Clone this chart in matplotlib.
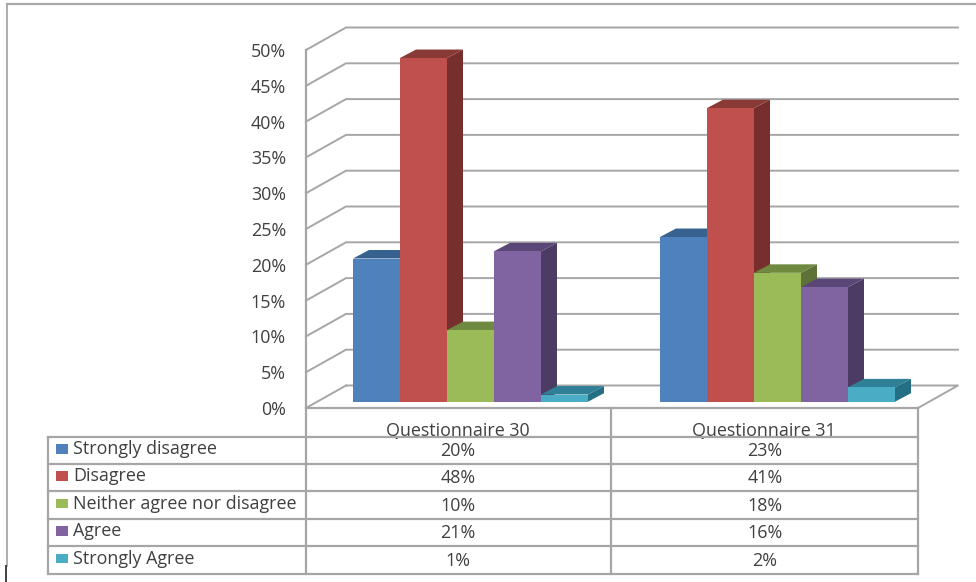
import matplotlib
matplotlib.use('Agg')
import matplotlib.pyplot as plt
from matplotlib.patches import Polygon, Rectangle

categories = ['Questionnaire 30', 'Questionnaire 31']
series_names = ['Strongly disagree', 'Disagree', 'Neither agree nor disagree', 'Agree', 'Strongly Agree']
q30_values = [20, 48, 10, 21, 1]
q31_values = [23, 41, 18, 16, 2]
y_ticks = [0, 5, 10, 15, 20, 25, 30, 35, 40, 45, 50]

front_colors = ['#4f81bd', '#c0504d', '#9bbb59', '#8064a2', '#4bacc6']
top_colors = ['#37618f', '#8a3a36', '#6f8a40', '#5b4678', '#2f8096']
side_colors = ['#2f4e74', '#772f2d', '#5e7137', '#4c3b62', '#256f84']

GRID = '#a6a6a6'
TEXT = '#404040'
FONT = 'Open Sans'
FS = 12.9

plt.rcParams['font.family'] = FONT

PER_PCT = 7.16
FRONT_ZERO = 408
BAR_ZERO = 401.7
DX, DY = 16, 8.5
BAR_W = 47

fig = plt.figure(figsize=(9.76, 5.82), dpi=100)

# axes in pixel positions, used for the frame and the table grid
ax = fig.add_axes([0, 0, 1, 1])
ax.set_xlim(0, 976)
ax.set_ylim(582, 0)
ax.axis('off')

def ypix(v, zero=FRONT_ZERO):
    return zero - v * PER_PCT

# outer frame
ax.plot([7, 976], [4, 4], color='#a8a8a8', lw=1.6)
ax.plot([7, 7], [4, 566], color='#a8a8a8', lw=1.3)
ax.plot([6, 6], [566, 582], color='#404040', lw=1.4)

# gridlines on the wall and side wall
for v in y_ticks:
    yf = ypix(v)
    yb = yf - 22.5
    if v > 0:
        ax.plot([306, 346, 958], [yf, yb, yb], color=GRID, lw=1.4, zorder=1)
    else:
        ax.plot([306, 346], [yf, yb], color=GRID, lw=1.4, zorder=1)
        ax.plot([346, 958, 918], [yb, yb, yf], color=GRID, lw=1.4, zorder=1)
    ax.text(286, yf + 2, f'{v}%', ha='right', va='center', fontsize=FS, color=TEXT)

# 3d bars, front face with top and side panels
group_left = [353, 660]
for left, values in zip(group_left, [q30_values, q31_values]):
    for j, v in enumerate(values):
        x0 = left + j * BAR_W
        x1 = x0 + BAR_W
        yb = BAR_ZERO
        yt = ypix(v, BAR_ZERO)
        ax.add_patch(Polygon([(x1, yb), (x1 + DX, yb - DY), (x1 + DX, yt - DY), (x1, yt)],
                             fc=side_colors[j], ec='none', zorder=2 + j))
        ax.add_patch(Polygon([(x0, yt), (x0 + DX, yt - DY), (x1 + DX, yt - DY), (x1, yt)],
                             fc=top_colors[j], ec='none', zorder=2 + j))
        ax.add_patch(Rectangle((x0, yt), BAR_W, yb - yt, fc=front_colors[j], ec='none', zorder=2 + j))

# data table under the chart
col_x = [48, 305, 611, 918]
row_y = [437, 463.5, 491, 518.5, 546, 573.5]

# the row line runs over the bottom of the category names
for cx, cat in zip(col_x[1:], categories):
    ax.text(cx + 153, 436, cat, ha='center', va='baseline', fontsize=FS, color=TEXT, zorder=5)

ax.plot([306, 918], [408, 408], color=GRID, lw=1.6, zorder=6)
ax.plot([306, 306], [ypix(50), 573.5], color=GRID, lw=1.6, zorder=6)
ax.plot([611, 611], [408, 573.5], color=GRID, lw=1.6, zorder=6)
ax.plot([918, 918], [408, 573.5], color=GRID, lw=1.6, zorder=6)
ax.plot([48, 48], [437, 573.5], color=GRID, lw=1.6, zorder=6)
for y in row_y:
    ax.plot([48, 918], [y, y], color=GRID, lw=1.6, zorder=6)

for i, name in enumerate(series_names):
    ymid = (row_y[i] + row_y[i + 1]) / 2
    ax.add_patch(Rectangle((56, ymid - 6), 12, 9.5, fc=front_colors[i], ec='none', zorder=6))
    ax.text(73, ymid - 1, name, ha='left', va='center', fontsize=FS, color=TEXT, zorder=7)
    ax.text(458, ymid + 1, f'{q30_values[i]}%', ha='center', va='center', fontsize=FS, color=TEXT, zorder=7)
    ax.text(765, ymid + 1, f'{q31_values[i]}%', ha='center', va='center', fontsize=FS, color=TEXT, zorder=7)

fig.savefig('out.png', dpi=100, facecolor='white')
